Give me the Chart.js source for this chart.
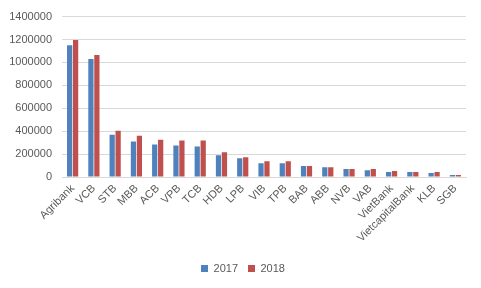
<!DOCTYPE html>
<html>
<head>
<meta charset="utf-8">
<script src="https://cdn.jsdelivr.net/npm/chart.js@4"></script>
<style>
  html, body { margin: 0; padding: 0; background: #fff; }
  #wrap { width: 481px; height: 288px; }
</style>
</head>
<body>
<div id="wrap"><canvas id="chart"></canvas></div>
<script>
const banks = ['Agribank', 'VCB', 'STB', 'MBB', 'ACB', 'VPB', 'TCB', 'HDB', 'LPB', 'VIB',
  'TPB', 'BAB', 'ABB', 'NVB', 'VAB', 'VietBank', 'VietcapitalBank', 'KLB', 'SGB'];
const values2017 = [1150000, 1031000, 369000, 309000, 283000, 275000, 266000, 189000, 163000, 120000,
  120000, 95000, 86000, 69000, 60000, 43000, 43000, 34000, 17000];
const values2018 = [1195000, 1065000, 404000, 361000, 326000, 318000, 318000, 215000, 172000, 137000,
  137000, 95000, 86000, 69000, 69000, 52000, 43000, 43000, 17000];
const yTicks = [0, 200000, 400000, 600000, 800000, 1000000, 1200000, 1400000];

const GREY_TEXT = '#595959';
const GRID = '#D9D9D9';
const FONT = { family: "'Liberation Sans', Arial, sans-serif", size: 11 };

new Chart(document.getElementById('chart'), {
  type: 'bar',
  data: {
    labels: banks,
    datasets: [
      { label: '2017', data: values2017, backgroundColor: '#4F81BD', yAxisID: 'y' },
      { label: '2018', data: values2018, backgroundColor: '#C0504D', yAxisID: 'y' },
    ],
  },
  options: {
    responsive: true,
    maintainAspectRatio: false,
    animation: false,
    categoryPercentage: 0.56,
    barPercentage: 0.88,
    layout: { padding: { top: 14, left: 5, right: 0, bottom: 4 } },
    plugins: {
      tooltip: { enabled: false },
      legend: {
        position: 'bottom',
        labels: { color: GREY_TEXT, font: FONT, boxWidth: 7, boxHeight: 7, padding: 10 },
      },
    },
    scales: {
      x: {
        grid: { display: false, drawTicks: false },
        border: { display: true, color: GRID },
        ticks: { color: GREY_TEXT, font: FONT, minRotation: 45, maxRotation: 45, padding: 5, autoSkip: false },
        afterFit: (s) => { s.height = 76; },
      },
      y: {
        min: 0,
        max: 1400000,
        afterBuildTicks: (s) => { s.ticks = yTicks.map((v) => ({ value: v })); },
        grid: { color: GRID, drawTicks: false },
        border: { display: false },
        ticks: { color: GREY_TEXT, font: FONT, padding: 10, callback: (v) => String(v) },
        afterFit: (s) => { s.width = 57; },
      },
      pad: {
        position: 'right',
        display: true,
        grid: { display: false, drawTicks: false },
        border: { display: false },
        ticks: { display: false },
        afterFit: (s) => { s.width = 15; },
      },
    },
  },
});
</script>
</body>
</html>
